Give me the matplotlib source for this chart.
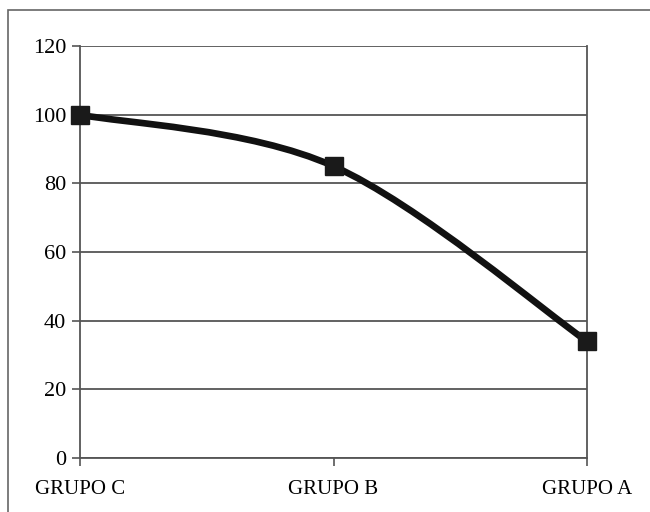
import matplotlib
matplotlib.use('Agg')
import matplotlib.pyplot as plt
from matplotlib.path import Path
from matplotlib.patches import PathPatch, Rectangle
import numpy as np

grupos = ['GRUPO C', 'GRUPO B', 'GRUPO A']
valores = [100, 85, 34]
yticks = [0, 20, 40, 60, 80, 100, 120]

plt.rcParams['font.family'] = ['Liberation Serif', 'DejaVu Serif']

fig = plt.figure(figsize=(6.5, 5.12), dpi=100)
ax = fig.add_axes([80 / 650, 1 - 458 / 512, (587 - 80) / 650, (458 - 46) / 512])

x = np.arange(len(valores), dtype=float)
y = np.array(valores, dtype=float)


def curva_suave(xs, ys, tension=1 / 6):
    # Bezier segments through the points, Catmull-Rom style
    verts = [(xs[0], ys[0])]
    codes = [Path.MOVETO]
    n = len(xs)
    for i in range(n - 1):
        p0 = np.array([xs[max(i - 1, 0)], ys[max(i - 1, 0)]])
        p1 = np.array([xs[i], ys[i]])
        p2 = np.array([xs[i + 1], ys[i + 1]])
        p3 = np.array([xs[min(i + 2, n - 1)], ys[min(i + 2, n - 1)]])
        c1 = p1 + (p2 - p0) * tension
        c2 = p2 - (p3 - p1) * tension
        verts += [tuple(c1), tuple(c2), tuple(p2)]
        codes += [Path.CURVE4] * 3
    return Path(verts, codes)


ax.add_patch(PathPatch(curva_suave(x, y), facecolor='none', edgecolor='#111111',
                       lw=4.8, capstyle='round', joinstyle='round', zorder=3,
                       clip_on=False))
ax.plot(x, y, linestyle='none', marker='s', markersize=13, color='#1a1a1a',
        zorder=4, clip_on=False)

ax.set_xlim(0, 2)
ax.set_ylim(0, 120)
ax.set_yticks(yticks)
ax.set_xticks(x)
ax.set_xticklabels(grupos, fontsize=15)
ax.tick_params(axis='y', labelsize=16, length=6, width=1.2, color='#555555', pad=4)
ax.tick_params(axis='x', length=6, width=1.2, color='#555555', pad=10)
ax.yaxis.grid(True, color='#555555', lw=1.3)
ax.set_axisbelow(True)

for lado in ['left', 'right', 'bottom']:
    ax.spines[lado].set_color('#555555')
    ax.spines[lado].set_linewidth(1.3)
ax.spines['top'].set_visible(False)

# outer frame of the figure
fig.patches.append(Rectangle((8 / 650, -0.1), 1.0, 1 - 10 / 512 + 0.1,
                             transform=fig.transFigure, fill=False,
                             edgecolor='#666666', lw=1.2))

fig.savefig('out.png', dpi=100)
